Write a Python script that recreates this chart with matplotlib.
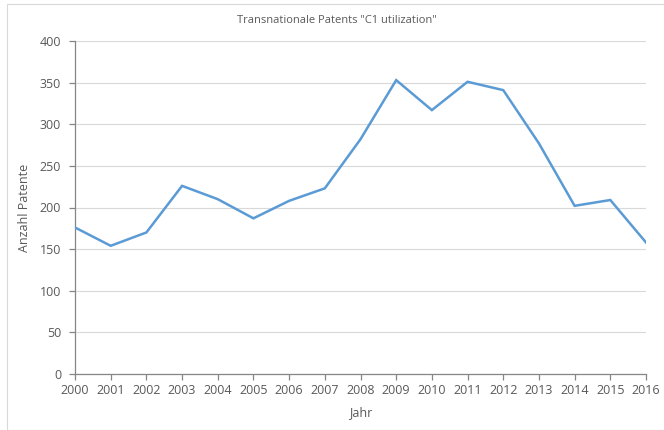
from matplotlib import pyplot as plt
from matplotlib.patches import Rectangle

# values
years = [2000, 2001, 2002, 2003, 2004, 2005, 2006, 2007, 2008,
         2009, 2010, 2011, 2012, 2013, 2014, 2015, 2016]
patents = [176, 154, 170, 226, 210, 187, 208, 223, 282,
           353, 317, 351, 341, 277, 202, 209, 158]
y_ticks = [0, 50, 100, 150, 200, 250, 300, 350, 400]

text_color = '#595959'
line_color = '#5B9BD5'
grid_color = '#D9D9D9'
axis_color = '#868686'

plt.rcParams['font.family'] = ['Open Sans', 'DejaVu Sans']

fig = plt.figure(figsize=(6.64, 4.30), dpi=100)
ax = fig.add_axes([75 / 664, 1 - 374 / 430, (646 - 75) / 664, (374 - 41) / 430])

# light frame around the chart area, like an office chart
fig.patches.append(Rectangle((7 / 664, 0.0), 1.0, 1 - 4 / 430,
                             transform=fig.transFigure, fill=False,
                             edgecolor=grid_color, linewidth=0.8))

ax.plot(years, patents, color=line_color, linewidth=1.8,
        solid_joinstyle='miter', zorder=3)

ax.set_xlim(years[0], years[-1])
ax.set_ylim(0, 400)
ax.set_xticks(years)
ax.set_yticks(y_ticks)
ax.yaxis.grid(True, color=grid_color, linewidth=0.8)
ax.set_axisbelow(True)

for side in ['top', 'right']:
    ax.spines[side].set_visible(False)
for side in ['left', 'bottom']:
    ax.spines[side].set_color(axis_color)
    ax.spines[side].set_linewidth(0.9)

ax.tick_params(axis='both', colors=axis_color, labelcolor=text_color,
               labelsize=9, length=4, width=0.9)
ax.tick_params(axis='y', pad=6)

ax.set_title('Transnationale Patents "C1 utilization"', fontsize=8,
             color=text_color, x=(337 - 75) / (646 - 75), pad=13)
ax.set_xlabel('Jahr', fontsize=9, color=text_color, labelpad=6)
ax.set_ylabel('Anzahl Patente', fontsize=9, color=text_color, labelpad=6)

fig.savefig('out.png', dpi=100)
